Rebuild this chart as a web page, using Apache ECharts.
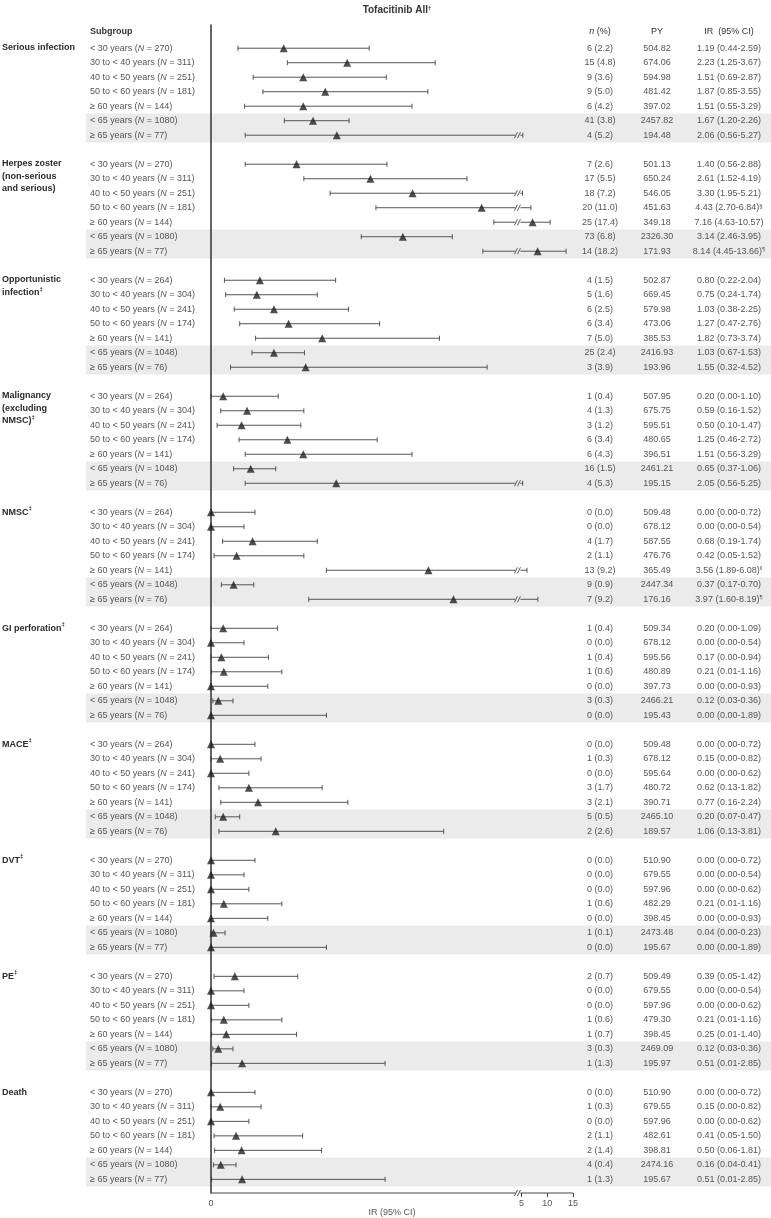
<!DOCTYPE html>
<html>
<head>
<meta charset="utf-8">
<script src="https://cdn.jsdelivr.net/npm/echarts@6/dist/echarts.min.js"></script>
<style>
  html, body { margin: 0; padding: 0; background: #fff; }
  #chart { width: 771px; height: 1218px; }
</style>
</head>
<body>
<div id="chart"></div>
<script>
// groups (rows of the forest plot)
const groupNames = [
  'Serious infection',
  'Herpes zoster\n(non-serious\nand serious)',
  'Opportunistic\ninfection{sup|‡}',
  'Malignancy\n(excluding\nNMSC){sup|‡}',
  'NMSC{sup|‡}',
  'GI perforation{sup|‡}',
  'MACE{sup|‡}',
  'DVT{sup|‡}',
  'PE{sup|‡}',
  'Death'
];
const ageBands = ['< 30 years', '30 to < 40 years', '40 to < 50 years', '50 to < 60 years',
  '≥ 60 years', '< 65 years', '≥ 65 years'];
const subgroupN = [
  [270, 311, 251, 181, 144, 1080, 77],
  [270, 311, 251, 181, 144, 1080, 77],
  [264, 304, 241, 174, 141, 1048, 76],
  [264, 304, 241, 174, 141, 1048, 76],
  [264, 304, 241, 174, 141, 1048, 76],
  [264, 304, 241, 174, 141, 1048, 76],
  [264, 304, 241, 174, 141, 1048, 76],
  [270, 311, 251, 181, 144, 1080, 77],
  [270, 311, 251, 181, 144, 1080, 77],
  [270, 311, 251, 181, 144, 1080, 77]
];
const nEvents = [
  [6, 15, 9, 9, 6, 41, 4],
  [7, 17, 18, 20, 25, 73, 14],
  [4, 5, 6, 6, 7, 25, 3],
  [1, 4, 3, 6, 6, 16, 4],
  [0, 0, 4, 2, 13, 9, 7],
  [1, 0, 1, 1, 0, 3, 0],
  [0, 1, 0, 3, 3, 5, 2],
  [0, 0, 0, 1, 0, 1, 0],
  [2, 0, 0, 1, 1, 3, 1],
  [0, 1, 0, 2, 2, 4, 1]
];
const pct = [
  [2.2, 4.8, 3.6, 5.0, 4.2, 3.8, 5.2],
  [2.6, 5.5, 7.2, 11.0, 17.4, 6.8, 18.2],
  [1.5, 1.6, 2.5, 3.4, 5.0, 2.4, 3.9],
  [0.4, 1.3, 1.2, 3.4, 4.3, 1.5, 5.3],
  [0.0, 0.0, 1.7, 1.1, 9.2, 0.9, 9.2],
  [0.4, 0.0, 0.4, 0.6, 0.0, 0.3, 0.0],
  [0.0, 0.3, 0.0, 1.7, 2.1, 0.5, 2.6],
  [0.0, 0.0, 0.0, 0.6, 0.0, 0.1, 0.0],
  [0.7, 0.0, 0.0, 0.6, 0.7, 0.3, 1.3],
  [0.0, 0.3, 0.0, 1.1, 1.4, 0.4, 1.3]
];
const py = [
  [504.82, 674.06, 594.98, 481.42, 397.02, 2457.82, 194.48],
  [501.13, 650.24, 546.05, 451.63, 349.18, 2326.30, 171.93],
  [502.87, 669.45, 579.98, 473.06, 385.53, 2416.93, 193.96],
  [507.95, 675.75, 595.51, 480.65, 396.51, 2461.21, 195.15],
  [509.48, 678.12, 587.55, 476.76, 365.49, 2447.34, 176.16],
  [509.34, 678.12, 595.56, 480.89, 397.73, 2466.21, 195.43],
  [509.48, 678.12, 595.64, 480.72, 390.71, 2465.10, 189.57],
  [510.90, 679.55, 597.96, 482.29, 398.45, 2473.48, 195.67],
  [509.49, 679.55, 597.96, 479.30, 398.45, 2469.09, 195.97],
  [510.90, 679.55, 597.96, 482.61, 398.81, 2474.16, 195.67]
];
const ir = [
  [1.19, 2.23, 1.51, 1.87, 1.51, 1.67, 2.06],
  [1.40, 2.61, 3.30, 4.43, 7.16, 3.14, 8.14],
  [0.80, 0.75, 1.03, 1.27, 1.82, 1.03, 1.55],
  [0.20, 0.59, 0.50, 1.25, 1.51, 0.65, 2.05],
  [0.00, 0.00, 0.68, 0.42, 3.56, 0.37, 3.97],
  [0.20, 0.00, 0.17, 0.21, 0.00, 0.12, 0.00],
  [0.00, 0.15, 0.00, 0.62, 0.77, 0.20, 1.06],
  [0.00, 0.00, 0.00, 0.21, 0.00, 0.04, 0.00],
  [0.39, 0.00, 0.00, 0.21, 0.25, 0.12, 0.51],
  [0.00, 0.15, 0.00, 0.41, 0.50, 0.16, 0.51]
];
const ciLow = [
  [0.44, 1.25, 0.69, 0.85, 0.55, 1.20, 0.56],
  [0.56, 1.52, 1.95, 2.70, 4.63, 2.46, 4.45],
  [0.22, 0.24, 0.38, 0.47, 0.73, 0.67, 0.32],
  [0.00, 0.16, 0.10, 0.46, 0.56, 0.37, 0.56],
  [0.00, 0.00, 0.19, 0.05, 1.89, 0.17, 1.60],
  [0.00, 0.00, 0.00, 0.01, 0.00, 0.03, 0.00],
  [0.00, 0.00, 0.00, 0.13, 0.16, 0.07, 0.13],
  [0.00, 0.00, 0.00, 0.01, 0.00, 0.00, 0.00],
  [0.05, 0.00, 0.00, 0.01, 0.01, 0.03, 0.01],
  [0.00, 0.00, 0.00, 0.05, 0.06, 0.04, 0.01]
];
const ciHigh = [
  [2.59, 3.67, 2.87, 3.55, 3.29, 2.26, 5.27],
  [2.88, 4.19, 5.21, 6.84, 10.57, 3.95, 13.66],
  [2.04, 1.74, 2.25, 2.76, 3.74, 1.53, 4.52],
  [1.10, 1.52, 1.47, 2.72, 3.29, 1.06, 5.25],
  [0.72, 0.54, 1.74, 1.52, 6.08, 0.70, 8.19],
  [1.09, 0.54, 0.94, 1.16, 0.93, 0.36, 1.89],
  [0.72, 0.82, 0.62, 1.82, 2.24, 0.47, 3.81],
  [0.72, 0.54, 0.62, 1.16, 0.93, 0.23, 1.89],
  [1.42, 0.54, 0.62, 1.16, 1.40, 0.36, 2.85],
  [0.72, 0.82, 0.62, 1.50, 1.81, 0.41, 2.85]
];
// footnote marks after the IR text
const irNotes = { '1,3': '§', '1,6': '¶', '4,4': '‖', '4,6': '¶' };
const xTicks = [0, 5, 10, 15];
const headers = ['Subgroup', '{i|n} (%)', 'PY', 'IR  (95% CI)'];
const axisTitle = 'IR (95% CI)';

const FONT = '"Liberation Sans", Arial, Helvetica, sans-serif';
const TXT = '#555';
const DARK = '#2b2b2b';
// broken axis: 0-5 linear, then compressed 5-15
const GAP = 5 / 61;
const HI_SCALE = 5.15 / 61;
const pos = v => (v <= 5 ? v : 5 + GAP + (v - 5) * HI_SCALE);
const unpos = p => (p <= 5 ? p : 5 + (p - 5 - GAP) / HI_SCALE);
const X_MAX = pos(15);
const Y_MIN = -1.6, Y_MAX = 78.94;

const rowIdx = (g, r) => g * 8 + r;
const rows = [], ciRows = [], points = [], bands = [];
groupNames.forEach((name, g) => {
  for (let r = 0; r < 7; r++) {
    rows.push([0, rowIdx(g, r), g, r]);
    ciRows.push([ciLow[g][r], ciHigh[g][r], rowIdx(g, r)]);
    points.push([pos(ir[g][r]), rowIdx(g, r)]);
  }
  bands.push([0, rowIdx(g, 5)]);
});

const txt = (x, y, text, align, extra) => ({
  type: 'text',
  style: Object.assign({
    x, y, text, align, verticalAlign: 'middle',
    fontSize: 9, fontFamily: FONT, fill: TXT,
    rich: {
      i: { fontStyle: 'italic', fontSize: 9, fontFamily: FONT, fill: TXT },
      sup: { fontSize: 6, fontFamily: FONT, fill: DARK, fontWeight: 'bold', verticalAlign: 'top' },
      s: { fontSize: 6, fontFamily: FONT, fill: TXT, verticalAlign: 'top' }
    }
  }, extra || {})
});

const headerText = headers.map((h, k) => ({
  type: 'text',
  x: [90, 600, 657, 729][k], y: 31.7, z: 10,
  style: {
    text: h, align: k === 0 ? 'left' : 'center', verticalAlign: 'middle',
    fontSize: 9, fontFamily: FONT, fill: '#333', fontWeight: k === 0 ? 'bold' : 'normal',
    rich: { i: { fontStyle: 'italic', fontSize: 9, fontFamily: FONT, fill: '#333' } }
  }
}));
headerText.push({
  type: 'text', x: 392, y: 1212.5, z: 10,
  style: { text: axisTitle, align: 'center', verticalAlign: 'middle',
    fontSize: 9, fontFamily: FONT, fill: TXT }
});

const chart = echarts.init(document.getElementById('chart'));
chart.setOption({
  animation: false,
  title: {
    text: 'Tofacitinib All{s|†}',
    left: 392, top: 0, textAlign: 'center',
    textStyle: {
      fontSize: 10, fontWeight: 'bold', color: '#333', fontFamily: FONT,
      rich: { s: { fontSize: 6, fontWeight: 'bold', color: '#333', verticalAlign: 'top', fontFamily: FONT } }
    }
  },
  grid: [
    { left: 0, right: 0, top: 25, bottom: 25, outerBoundsMode: 'none', containLabel: false },
    { left: 211, right: 198, top: 25, bottom: 25, outerBoundsMode: 'none', containLabel: false }
  ],
  xAxis: [
    { gridIndex: 0, type: 'value', min: 0, max: 771, show: false },
    {
      gridIndex: 1, type: 'value', min: 0, max: X_MAX,
      axisLine: { show: false, onZero: false },
      axisTick: {
        show: true, length: 4, lineStyle: { color: '#444' },
        customValues: xTicks.slice(1).map(v => (v === 5 ? 5 + GAP : pos(v)))
      },
      axisLabel: {
        fontSize: 9, color: TXT, fontFamily: FONT, margin: 6,
        customValues: xTicks.map(v => (v === 5 ? 5 + GAP : pos(v))),
        formatter: v => String(Math.round(unpos(v)))
      },
      splitLine: { show: false }
    }
  ],
  yAxis: [
    { gridIndex: 0, type: 'value', inverse: true, min: Y_MIN, max: Y_MAX, show: false },
    {
      gridIndex: 1, type: 'value', inverse: true, min: Y_MIN, max: Y_MAX, z: 4,
      axisLine: { show: true, onZero: false, lineStyle: { color: '#333', width: 1.5 } },
      axisTick: { show: false }, axisLabel: { show: false }, splitLine: { show: false }
    }
  ],
  graphic: headerText,
  series: [
    {
      type: 'custom', name: 'bands', xAxisIndex: 0, yAxisIndex: 0, z: 1, silent: true,
      data: bands,
      renderItem: (params, api) => {
        const top = api.coord([0, api.value(1) - 0.5])[1];
        const bot = api.coord([0, api.value(1) + 1.5])[1];
        return { type: 'rect', shape: { x: 86, y: top, width: 685, height: bot - top },
          style: { fill: '#ebebeb' } };
      }
    },
    {
      type: 'custom', name: 'labels', xAxisIndex: 0, yAxisIndex: 0, z: 5, silent: true,
      data: rows,
      renderItem: (params, api) => {
        const g = api.value(2), r = api.value(3);
        const y = api.coord([0, api.value(1)])[1];
        const note = irNotes[g + ',' + r];
        const children = [
          txt(90, y, `${ageBands[r]} ({i|N} = ${subgroupN[g][r]})`, 'left'),
          txt(600, y, `${nEvents[g][r]} (${pct[g][r].toFixed(1)})`, 'center'),
          txt(657, y, py[g][r].toFixed(2), 'center'),
          txt(729, y, `${ir[g][r].toFixed(2)} (${ciLow[g][r].toFixed(2)}-${ciHigh[g][r].toFixed(2)})` +
            (note ? `{s|${note}}` : ''), 'center')
        ];
        if (r === 0) {
          children.push(txt(2, y - 6.5, groupNames[g], 'left',
            { verticalAlign: 'top', lineHeight: 12.5, fontWeight: 'bold', fill: DARK }));
        }
        return { type: 'group', children };
      }
    },
    {
      type: 'custom', name: 'ci', xAxisIndex: 1, yAxisIndex: 1, z: 3, silent: true,
      clip: false,
      data: ciRows,
      renderItem: (params, api) => {
        const lo = api.value(0), hi = api.value(1), row = api.value(2);
        const y = api.coord([0, row])[1];
        const xl = api.coord([pos(lo), row])[0];
        const xh = api.coord([pos(hi), row])[0];
        const ls = { stroke: '#555', lineWidth: 1 };
        const seg = (x1, y1, x2, y2) => ({ type: 'line', shape: { x1, y1, x2, y2 }, style: ls });
        const kids = [seg(xl, y - 2.5, xl, y + 2.5), seg(xh, y - 2.5, xh, y + 2.5)];
        if (hi > 5) {
          const b1 = api.coord([5, row])[0];
          const b2 = api.coord([5 + GAP, row])[0];
          kids.push(seg(xl, y, b1 - 1, y));
          kids.push(seg(b1 - 2, y + 3, b1 + 1, y - 3));
          kids.push(seg(b1 + 1, y + 3, b1 + 4, y - 3));
          kids.push(seg(b2 - 1, y, xh, y));
        } else {
          kids.push(seg(xl, y, xh, y));
        }
        return { type: 'group', children: kids };
      }
    },
    {
      type: 'scatter', name: 'IR', xAxisIndex: 1, yAxisIndex: 1, z: 4, silent: true,
      symbol: 'triangle', symbolSize: [8, 8],
      itemStyle: { color: '#222' },
      data: points
    },
    {
      // bottom axis line with the scale break
      type: 'custom', name: 'axisBreak', xAxisIndex: 1, yAxisIndex: 1, z: 6, silent: true,
      clip: false,
      data: [[5, Y_MAX]],
      renderItem: (params, api) => {
        const y = api.coord([0, Y_MAX])[1];
        const x0 = api.coord([0, Y_MAX])[0];
        const x1 = api.coord([X_MAX, Y_MAX])[0];
        const b1 = api.coord([5, Y_MAX])[0];
        const b2 = api.coord([5 + GAP, Y_MAX])[0];
        const ls = { stroke: '#444', lineWidth: 1 };
        const seg = (xa, ya, xb, yb) => ({ type: 'line', shape: { x1: xa, y1: ya, x2: xb, y2: yb }, style: ls });
        return { type: 'group', children: [
          seg(x0, y, b1 - 1, y),
          seg(b1 - 2, y + 3, b1 + 1, y - 3),
          seg(b1 + 1, y + 3, b1 + 4, y - 3),
          seg(b2 - 1, y, x1, y)
        ] };
      }
    }
  ]
});
</script>
</body>
</html>
